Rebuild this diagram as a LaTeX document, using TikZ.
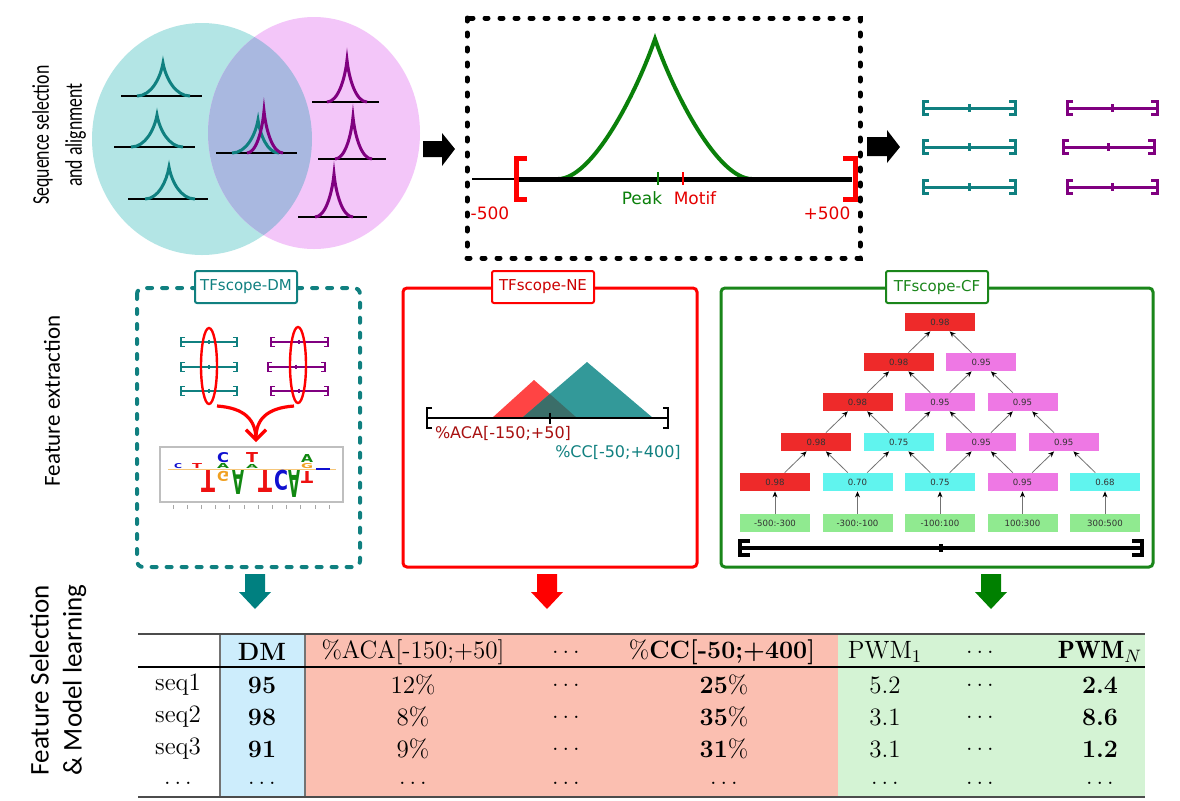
\documentclass[tikz,border=0pt]{standalone}
\usepackage{fontspec}
\usepackage{graphicx}
\usepackage{xcolor}
\usetikzlibrary{arrows.meta}
\newfontfamily\dejavu{DejaVu Sans}
\newfontfamily\carlito{Carlito}

\definecolor{seqteal}{HTML}{108080}
\definecolor{seqpurple}{HTML}{800080}
\definecolor{venncyan}{HTML}{B3E5E5}
\definecolor{vennpink}{HTML}{F3C6F9}
\definecolor{vennmix}{HTML}{A9B8E0}
\definecolor{peakgreen}{HTML}{0A800A}
\definecolor{cfgreen}{HTML}{1A861A}
\definecolor{cfred}{HTML}{EE2A2A}
\definecolor{cfpink}{HTML}{EE78E4}
\definecolor{cfcyan}{HTML}{60F4EE}
\definecolor{cflime}{HTML}{90EA90}
\definecolor{nered}{HTML}{FF4444}
\definecolor{neteal}{HTML}{339999}
\definecolor{nemix}{HTML}{3B6E69}
\definecolor{acared}{HTML}{A81010}
\definecolor{tabblue}{HTML}{CDEDFC}
\definecolor{tabsalmon}{HTML}{FBBFB1}
\definecolor{tabgreen}{HTML}{D4F3D4}
\definecolor{logoblue}{HTML}{1010D0}
\definecolor{logored}{HTML}{EE1111}
\definecolor{logogreen}{HTML}{118811}
\definecolor{logoorange}{HTML}{F0A020}

\tikzset{
    peak-line/.style = {line width=1.5pt},
    base-line/.style = {line width=1.3pt},
    peak-frame/.style = {draw=black, line width=2.5pt, dash pattern=on 1.5pt off 6pt, line cap=round},
    dm-frame/.style = {draw=seqteal, line width=2pt, dash pattern=on 2.5pt off 5pt, line cap=round, rounded corners=3pt},
    ne-frame/.style = {draw=red, line width=1.5pt, rounded corners=2pt},
    cf-frame/.style = {draw=cfgreen, line width=1.5pt, rounded corners=2pt},
    frame-title/.style = {fill=white, line width=1pt, rounded corners=1pt, minimum width=51pt, minimum height=16pt, inner sep=2pt, font=\dejavu\fontsize{7.5}{9}\selectfont},
    peak-label/.style = {font=\dejavu\fontsize{8.5}{10}\selectfont, inner sep=0pt},
    ne-label/.style = {font=\dejavu\fontsize{8}{10}\selectfont, inner sep=0pt},
    tree-box/.style = {minimum width=35pt, minimum height=9pt, inner sep=0pt, font=\dejavu\fontsize{4.3}{5}\selectfont, text=black!80},
    tree-edge/.style = {draw=black!55, line width=0.4pt, -{Stealth[length=3pt, width=2.5pt, black]}},
    cell/.style = {font=\fontsize{12.5}{15}\selectfont, inner sep=0pt},
    logo-up/.style = {inner sep=0pt, anchor=south, font=\dejavu\bfseries},
    logo-down/.style = {inner sep=0pt, anchor=south, yscale=-1, font=\dejavu\bfseries},
}

% cusp shaped peak: colour, left foot, apex x, apex y, right foot, base
\newcommand{\drawcusp}[6]{%
  \draw[peak-line, #1] (#2,#6) .. controls ({#2+0.55*(#3-#2)},#6) and ({#3-0.1*(#3-#2)},{#4+0.45*(#6-#4)}) .. (#3,#4)
    .. controls ({#3+0.1*(#5-#3)},{#4+0.45*(#6-#4)}) and ({#5-0.55*(#5-#3)},#6) .. (#5,#6);}
% wider peak, same arguments
\newcommand{\drawbell}[6]{%
  \draw[peak-line, #1] (#2,#6) .. controls ({#2+0.35*(#3-#2)},#6) and ({#3-0.2*(#3-#2)},{#4+0.4*(#6-#4)}) .. (#3,#4)
    .. controls ({#3+0.2*(#5-#3)},{#4+0.4*(#6-#4)}) and ({#5-0.35*(#5-#3)},#6) .. (#5,#6);}
% aligned sequence: style, x1, x2, y, tick, half height, serif
\newcommand{\seqbar}[7]{%
  \draw[#1] ({#2+#7},{#4-#6}) -- (#2,{#4-#6}) -- (#2,{#4+#6}) -- ({#2+#7},{#4+#6});
  \draw[#1] ({#3-#7},{#4-#6}) -- (#3,{#4-#6}) -- (#3,{#4+#6}) -- ({#3-#7},{#4+#6});
  \draw[#1] (#2,#4) -- (#3,#4);
  \draw[#1] (#5,{#4-0.55*#6}) -- (#5,{#4+0.55*#6});}
\newcommand{\logochar}[7]{\node[#1, text=#2] (#3) at (#4) {\resizebox{#5}{#6}{#7}};}
\newcommand{\blockdown}[2]{%
  \fill[#1] ({#2-10},574) -- ({#2+10},574) -- ({#2+10},592) -- ({#2+16},592) -- (#2,609) -- ({#2-16},592) -- ({#2-10},592) -- cycle;}

\begin{document}
\begin{tikzpicture}[x=0.5pt, y=-0.5pt]
\useasboundingbox (0,0) rectangle (1180,800);
\fill[white] (0,0) rectangle (1180,800);

% row labels
\node[rotate=90, align=center, font=\carlito\fontsize{12}{16.5}\selectfont] (lab-seq) at (59,135) {\scalebox{0.74}[1]{Sequence selection}\\\scalebox{0.74}[1]{and alignment}};
\node[rotate=90, font=\carlito\fontsize{11.5}{14}\selectfont] (lab-feat) at (52,401) {Feature extraction};
\node[rotate=90, align=center, font=\carlito\fontsize{13.5}{16.5}\selectfont] (lab-sel) at (58,680) {Feature Selection\\\& Model learning};

% venn diagram
\fill[venncyan] (202,139) ellipse [x radius=110, y radius=116];
\fill[vennpink] (314,133) ellipse [x radius=106, y radius=116];
\begin{scope}
  \clip (202,139) ellipse [x radius=110, y radius=116];
  \fill[vennmix] (314,133) ellipse [x radius=106, y radius=116];
\end{scope}
\draw[base-line] (121,96) -- (202,96);
\draw[base-line] (114,147) -- (195,147);
\draw[base-line] (128,199) -- (208,199);
\draw[base-line] (312,102) -- (379,102);
\draw[base-line] (318,159) -- (386,159);
\draw[base-line] (298,217) -- (367,217);
\draw[base-line] (216,153) -- (297,153);
\drawcusp{seqteal}{137}{163}{63}{190}{96}
\drawcusp{seqteal}{131}{157}{115}{183}{147}
\drawcusp{seqteal}{145}{169}{167}{195}{199}
\drawcusp{seqpurple}{327}{347}{60}{367}{102}
\drawcusp{seqpurple}{335}{353}{117}{372}{159}
\drawcusp{seqpurple}{315}{334}{174}{353}{217}
\drawcusp{seqteal}{232}{258}{120}{279}{153}
\drawcusp{seqpurple}{247}{264}{111}{283}{153}

% block arrows
\fill (423,141) -- (442,141) -- (442,133) -- (455,149) -- (442,166) -- (442,157) -- (423,157) -- cycle;
\fill (867,137) -- (887,137) -- (887,130) -- (900,147) -- (887,163) -- (887,156) -- (867,156) -- cycle;

% peak window
\draw[peak-frame] (467,18) rectangle (860,258);
\drawbell{peakgreen, line width=2pt}{558}{655}{39}{752}{179}
\draw[line width=1pt] (472,179) -- (518,179);
\draw[line width=2.5pt] (518,179) -- (852,179);
\draw[red, line width=2.5pt] (527,158) -- (516,158) -- (516,199) -- (527,199);
\draw[red, line width=2.5pt] (843,158) -- (855,158) -- (855,199) -- (843,199);
\draw[peakgreen, line width=1pt] (658,172) -- (658,185);
\draw[red, line width=1pt] (683,172) -- (683,185);
\node[peak-label, text=peakgreen] (peak-lab) at (642,198) {Peak};
\node[peak-label, text=red!90!black] (motif-lab) at (695,198) {Motif};
\node[peak-label, text=red!90!black] (min-lab) at (490,213) {-500};
\node[peak-label, text=red!90!black] (max-lab) at (827,213) {+500};

% aligned sequences
\foreach \y in {108,147,187} {\seqbar{seqteal, line width=1.5pt}{923}{1015}{\y}{969}{6.5}{6}}
\seqbar{seqpurple, line width=1.5pt}{1067}{1157}{108}{1112}{6.5}{6}
\seqbar{seqpurple, line width=1.5pt}{1063}{1154}{147}{1108}{6.5}{6}
\seqbar{seqpurple, line width=1.5pt}{1067}{1157}{187}{1112}{6.5}{6}

% TFscope-DM
\draw[dm-frame] (137,288) rectangle (360,567);
\node[frame-title, draw=seqteal, text=seqteal] (dm-title) at (246,287) {TFscope-DM};
\foreach \y in {342,367,391} {\seqbar{seqteal, line width=0.9pt}{181}{237}{\y}{209}{4.5}{4}}
\seqbar{seqpurple, line width=0.9pt}{271}{328}{342}{299}{4.5}{4}
\seqbar{seqpurple, line width=0.9pt}{268}{325}{367}{296}{4.5}{4}
\seqbar{seqpurple, line width=0.9pt}{271}{328}{391}{299}{4.5}{4}
\draw[red, line width=1.2pt] (209,366) ellipse [x radius=8, y radius=38];
\draw[red, line width=1.2pt] (298,365) ellipse [x radius=8, y radius=38];
\draw[red, line width=1.6pt] (217,406) .. controls (245,408) and (256,420) .. (256,440);
\draw[red, line width=1.6pt, -{Straight Barb[length=5pt, width=10pt]}] (294,406) .. controls (266,408) and (256,420) .. (256,442);
% logo
\draw[black!25, line width=0.6pt] (160,447) rectangle (343,502);
\draw[logoorange!60, line width=0.5pt] (168,469) -- (336,469);
\logochar{logo-up}{logoblue}{lg1}{178,469}{4pt}{2.5pt}{C}
\logochar{logo-up}{logored}{lg2}{197,469}{5pt}{2.5pt}{T}
\logochar{logo-down}{logored}{lg3}{208,470}{7pt}{11pt}{T}
\logochar{logo-up}{logogreen}{lg4}{223,469}{6pt}{2.5pt}{A}
\logochar{logo-up}{logoblue}{lg5}{223,463}{6pt}{5pt}{C}
\logochar{logo-down}{logoorange}{lg6}{223,471}{6pt}{5pt}{G}
\logochar{logo-down}{logogreen}{lg7}{238,470}{6pt}{12pt}{A}
\logochar{logo-up}{logogreen}{lg8}{252,469}{6pt}{2pt}{A}
\logochar{logo-up}{logored}{lg9}{252,463}{6pt}{5pt}{T}
\logochar{logo-down}{logored}{lg10}{265,470}{7pt}{11pt}{T}
\logochar{logo-down}{logoblue}{lg11}{281,470}{7pt}{10pt}{C}
\logochar{logo-down}{logogreen}{lg12}{294,470}{6pt}{13.5pt}{A}
\logochar{logo-up}{logoorange}{lg13}{307,469}{6pt}{2.5pt}{G}
\logochar{logo-up}{logogreen}{lg14}{307,463}{6pt}{4pt}{A}
\logochar{logo-down}{logored}{lg15}{307,471}{6pt}{6pt}{T}
\draw[logoblue, line width=0.8pt] (316,469) -- (330,469);
\foreach \k in {0,...,11} \draw[black!35, line width=0.4pt] ({173+14.2*\k},505) -- ++(0,4);

% TFscope-NE
\draw[ne-frame] (403,288) rectangle (697,567);
\node[frame-title, draw=red, text=red!80!black] (ne-title) at (543,287) {TFscope-NE};
\fill[nered] (492,418) -- (534,380) -- (577,418) -- cycle;
\fill[neteal] (522,418) -- (587,362) -- (653,418) -- cycle;
\begin{scope}
  \clip (492,418) -- (534,380) -- (577,418) -- cycle;
  \fill[nemix] (522,418) -- (587,362) -- (653,418) -- cycle;
\end{scope}
\seqbar{black, line width=1pt}{427}{668}{418}{550}{10}{5}
\node[ne-label, text=acared] (aca-lab) at (503,433) {\%ACA[-150;+50]};
\node[ne-label, text=seqteal] (cc-lab) at (618,452) {\%CC[-50;+400]};

% TFscope-CF
\draw[cf-frame] (721,288) rectangle (1153,567);
\node[frame-title, draw=cfgreen, text=cfgreen] (cf-title) at (937,287) {TFscope-CF};
\foreach \r/\i/\v/\c in {0/0/0.98/cfred, 1/0/0.98/cfred, 1/1/0.95/cfpink,
    2/0/0.98/cfred, 2/1/0.95/cfpink, 2/2/0.95/cfpink,
    3/0/0.98/cfred, 3/1/0.75/cfcyan, 3/2/0.95/cfpink, 3/3/0.95/cfpink,
    4/0/0.98/cfred, 4/1/0.70/cfcyan, 4/2/0.75/cfcyan, 4/3/0.95/cfpink, 4/4/0.68/cfcyan}
  \node[tree-box, fill=\c] (r\r-\i) at ({940+82.5*(\i-\r/2)},{322+40*\r}) {\v};
\foreach \i/\v in {0/-500:-300, 1/-300:-100, 2/-100:100, 3/100:300, 4/300:500}
  \node[tree-box, fill=cflime] (r5-\i) at ({775+82.5*\i},523) {\v};
\foreach \k in {1,...,4} {
  \pgfmathtruncatemacro\up{\k-1}
  \foreach \i in {0,...,\k} {
    \ifnum\i>0 \pgfmathtruncatemacro\lft{\i-1}\draw[tree-edge] (r\k-\i) -- (r\up-\lft);\fi
    \ifnum\i<\k \draw[tree-edge] (r\k-\i) -- (r\up-\i);\fi
  }
}
\foreach \i in {0,...,4} \draw[tree-edge] (r5-\i) -- (r4-\i);
\seqbar{black, line width=1.8pt}{740}{1142}{548}{941}{7}{10}

% down arrows
\blockdown{teal}{255}
\blockdown{red}{547}
\blockdown{green!50!black}{991}

% feature table
\fill[tabblue] (220,634) rectangle (305,797);
\fill[tabsalmon] (305,634) rectangle (838,797);
\fill[tabgreen] (838,634) rectangle (1145,797);
\draw[black!55, line width=0.6pt] (220,634) -- (220,797);
\draw[black!55, line width=0.6pt] (305,634) -- (305,797);
\draw[black!70, line width=1pt] (138,634) -- (1145,634);
\draw[black, line width=0.8pt] (138,667) -- (1145,667);
\draw[black!70, line width=1pt] (138,797) -- (1145,797);
\foreach \x/\t [count=\c] in {262/\textbf{DM}, 413/\%ACA[-150;+50], 566/$\ldots$, 722/\%\textbf{CC[-50;+400]}, 885/PWM$_1$, 980/$\ldots$, 1100/$\mathbf{PWM}_N$}
  \node[cell] (h-\c) at (\x,652) {\t};
\foreach \x/\t [count=\c] in {178/seq1, 262/\textbf{95}, 413/12\%, 566/$\ldots$, 724/\textbf{25}\%, 885/5.2, 980/$\ldots$, 1100/\textbf{2.4}}
  \node[cell] (s1-\c) at (\x,685) {\t};
\foreach \x/\t [count=\c] in {178/seq2, 262/\textbf{98}, 413/8\%, 566/$\ldots$, 724/\textbf{35}\%, 885/3.1, 980/$\ldots$, 1100/\textbf{8.6}}
  \node[cell] (s2-\c) at (\x,717) {\t};
\foreach \x/\t [count=\c] in {178/seq3, 262/\textbf{91}, 413/9\%, 566/$\ldots$, 724/\textbf{31}\%, 885/3.1, 980/$\ldots$, 1100/\textbf{1.2}}
  \node[cell] (s3-\c) at (\x,749) {\t};
\foreach \x [count=\c] in {178,262,413,566,724,885,980,1100}
  \node[cell] (s4-\c) at (\x,783) {$\ldots$};
\end{tikzpicture}
\end{document}
